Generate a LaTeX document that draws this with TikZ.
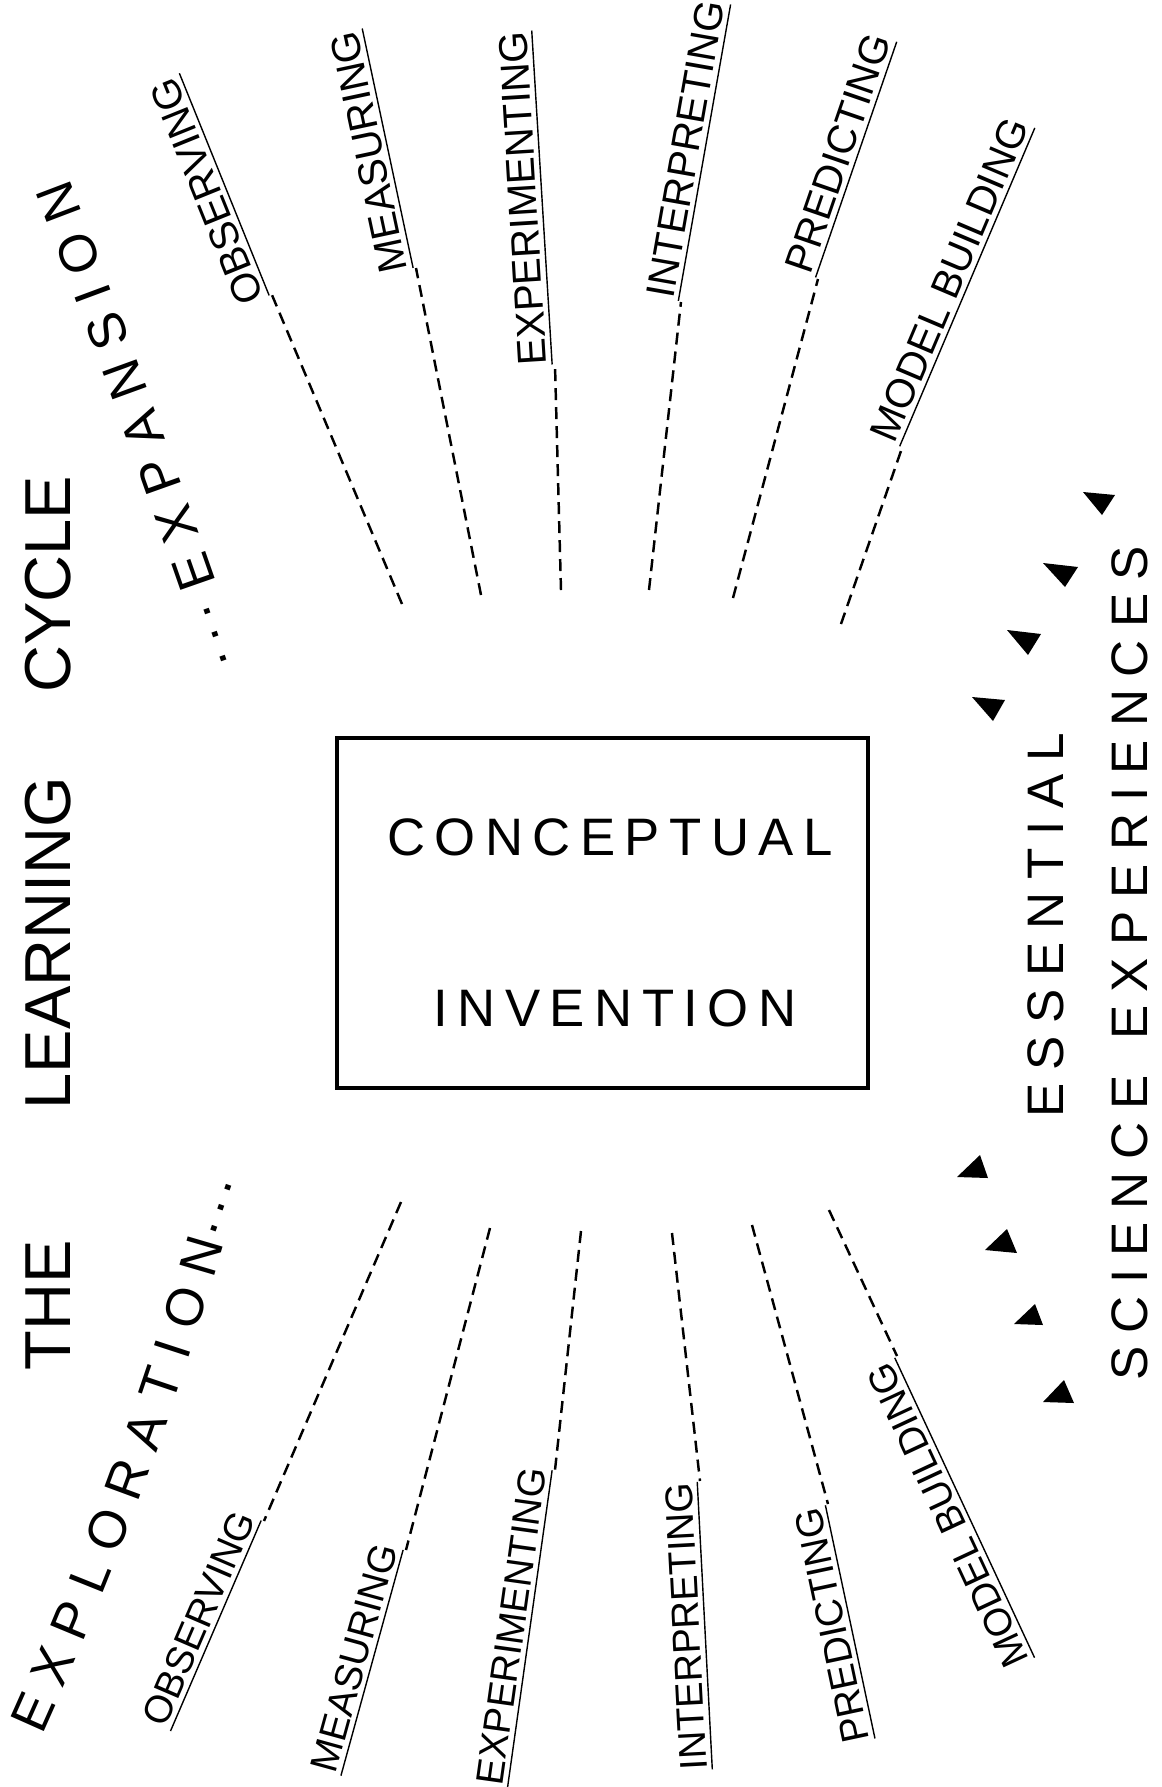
\documentclass[tikz,border=0pt]{standalone}
\usepackage{fontspec}
\setmainfont{Liberation Sans}
\newfontfamily\boxfont[LetterSpace=18]{Liberation Sans}
\newfontfamily\essfont[LetterSpace=25]{Liberation Sans}
\usetikzlibrary{decorations.text}

\begin{document}
\begin{tikzpicture}[x=0.1mm, y=-0.1mm,
  title/.style={font=\fontsize{18.5}{22}\selectfont, inner sep=0pt},
  boxtext/.style={font=\boxfont\fontsize{15}{18}\selectfont, inner sep=0pt},
  esstext/.style={font=\essfont\fontsize{14.6}{17}\selectfont, inner sep=0pt},
  skill/.style={font=\fontsize{11.5}{13}\selectfont, inner sep=0pt},
  lowskill/.style={font=\fontsize{11}{13}\selectfont, inner sep=0pt},
  ray/.style={line width=0.7pt, dash pattern=on 1.2mm off 0.7mm},
  pointer/.style={fill=black}]

  \useasboundingbox (0,0) rectangle (1161,1787);

  % title, read from the bottom
  \node[title, rotate=90] (the) at (48,1305) {THE};
  \node[title, rotate=90] (learning) at (48,943) {LEARNING};
  \node[title, rotate=90] (cycle) at (48,584) {CYCLE};

  % phase names set along arcs
  \path[decorate, decoration={text along path, text align={fit to path},
    text={|\fontsize{15}{18}\selectfont|EXPLORATION}}]
    (42,1735) .. controls (114,1575) and (176,1410) .. (224,1243);
  \path[decorate, decoration={text along path, text align={fit to path},
    text={|\fontsize{15}{18}\selectfont|...}}]
    (214,1236) -- (233,1182);
  \path[decorate, decoration={text along path, text align={fit to path},
    text={|\fontsize{15}{18}\selectfont|...}}]
    (229,664) -- (208,604);
  \path[decorate, decoration={text along path, text align={fit to path},
    text={|\fontsize{15}{18}\selectfont|EXPANSION}}]
    (216,582) .. controls (170,450) and (121,314) .. (69,178);

  % central box
  \node[draw, line width=1pt, minimum width=53.1mm, minimum height=35mm, inner sep=0pt]
    (cibox) at (602.5,913) {};
  \node[boxtext] (concept) at (610,837) {CONCEPTUAL};
  \node[boxtext] (invent) at (615,1008) {INVENTION};

  % expansion rays: label runs outward from the dashes
  \coordinate (xobs) at (402,604);
  \node[skill, anchor=south west, rotate=112] (xobslbl) at (272,295) {\underline{OBSERVING}};
  \draw[ray] (xobs) -- (xobslbl.south west);
  \coordinate (xmea) at (481,595);
  \node[skill, anchor=south west, rotate=102] (xmealbl) at (416,268) {\underline{MEASURING}};
  \draw[ray] (xmea) -- (xmealbl.south west);
  \coordinate (xexp) at (561,590);
  \node[skill, anchor=south west, rotate=93.5] (xexplbl) at (555,365) {\underline{EXPERIMENTING}};
  \draw[ray] (xexp) -- (xexplbl.south west);
  \coordinate (xint) at (649,590);
  \node[skill, anchor=south west, rotate=80] (xintlbl) at (681,302) {\underline{INTERPRETING}};
  \draw[ray] (xint) -- (xintlbl.south west);
  \coordinate (xpre) at (733,598);
  \node[skill, anchor=south west, rotate=71] (xprelbl) at (818,279) {\underline{PREDICTING}};
  \draw[ray] (xpre) -- (xprelbl.south west);
  \coordinate (xmod) at (841,624);
  \node[skill, anchor=south west, rotate=67] (xmodlbl) at (902,448) {\underline{MODEL BUILDING}};
  \draw[ray] (xmod) -- (xmodlbl.south west);

  % exploration rays: label runs in toward the dashes
  \coordinate (eobs) at (401,1202);
  \node[lowskill, anchor=south east, rotate=66.7] (eobslbl) at (264,1521) {\underline{OBSERVING}};
  \draw[ray] (eobs) -- (eobslbl.south east);
  \coordinate (emea) at (490,1228);
  \node[lowskill, anchor=south east, rotate=74.6] (emealbl) at (406,1550) {\underline{MEASURING}};
  \draw[ray] (emea) -- (emealbl.south east);
  \coordinate (eexp) at (581,1231);
  \node[lowskill, anchor=south east, rotate=82] (eexplbl) at (555,1470) {\underline{EXPERIMENTING}};
  \draw[ray] (eexp) -- (eexplbl.south east);
  \coordinate (eint) at (672,1233);
  \node[lowskill, anchor=south east, rotate=93] (eintlbl) at (700,1481) {\underline{INTERPRETING}};
  \draw[ray] (eint) -- (eintlbl.south east);
  \coordinate (epre) at (752,1225);
  \node[lowskill, anchor=south east, rotate=102] (eprelbl) at (828,1504) {\underline{PREDICTING}};
  \draw[ray] (epre) -- (eprelbl.south east);
  \coordinate (emod) at (829,1210);
  \node[lowskill, anchor=south east, rotate=115] (emodlbl) at (897,1356) {\underline{MODEL BUILDING}};
  \draw[ray] (emod) -- (emodlbl.south east);

  % essential science experiences
  \node[esstext, rotate=90] (essential) at (1046,925) {ESSENTIAL};
  \node[esstext, rotate=90] (science) at (1130,963) {SCIENCE\hspace{0.7em}EXPERIENCES};

  % arrowheads round the right hand text
  \fill[pointer] (1083,492) -- (1115,495) -- (1102,515) -- cycle;
  \fill[pointer] (1043,563) -- (1078,567) -- (1065,587) -- cycle;
  \fill[pointer] (1007,630) -- (1041,634) -- (1028,655) -- cycle;
  \fill[pointer] (972,697) -- (1005,700) -- (993,721) -- cycle;
  \fill[pointer] (980,1155) -- (957,1177) -- (988,1178) -- cycle;
  \fill[pointer] (1007,1229) -- (985,1250) -- (1017,1253) -- cycle;
  \fill[pointer] (1035,1304) -- (1014,1324) -- (1043,1325) -- cycle;
  \fill[pointer] (1064,1380) -- (1043,1402) -- (1074,1403) -- cycle;
\end{tikzpicture}
\end{document}
